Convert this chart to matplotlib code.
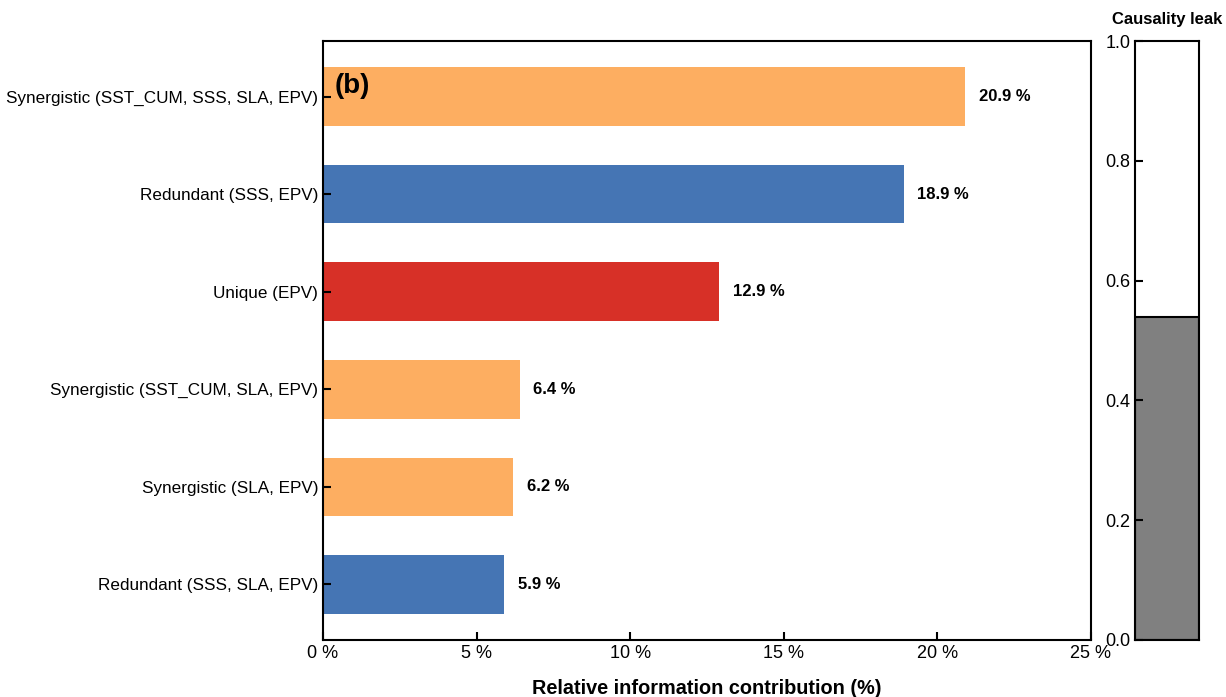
import matplotlib.pyplot as plt

plt.rcParams['font.family'] = ['Liberation Sans', 'DejaVu Sans']

labels = ['Redundant (SSS, SLA, EPV)', 'Synergistic (SLA, EPV)',
          'Synergistic (SST_CUM, SLA, EPV)', 'Unique (EPV)',
          'Redundant (SSS, EPV)', 'Synergistic (SST_CUM, SSS, SLA, EPV)']
values = [5.9, 6.2, 6.4, 12.9, 18.9, 20.9]
kinds = ['R', 'S', 'S', 'U', 'R', 'S']
leak = 0.54

colors = {'R': '#4575b4', 'S': '#fdae61', 'U': '#d73027'}

fig = plt.figure(figsize=(12.26, 6.97), dpi=100)
ax = fig.add_axes([323/1226, 57/697, 768/1226, 599/697])
ax2 = fig.add_axes([1135/1226, 57/697, 64/1226, 599/697])

ypos = range(len(values))
ax.barh(ypos, values, height=0.6, color=[colors[k] for k in kinds])
for y, v in zip(ypos, values):
    ax.text(v + 0.45, y, f'{v:.1f} %', va='center', ha='left',
            fontsize=12, fontweight='bold')
ax.set_yticks(list(ypos))
ax.set_yticklabels(labels, fontsize=12.3)
ax.set_xlim(0, 25)
ax.set_ylim(-0.57, 5.57)
ax.set_xticks([0, 5, 10, 15, 20, 25])
ax.set_xticklabels([f'{t} %' for t in [0, 5, 10, 15, 20, 25]], fontsize=13)
ax.set_xlabel('Relative information contribution (%)', fontsize=14.3,
              fontweight='bold', labelpad=12)
ax.tick_params(direction='in', length=6, width=1.5)
for s in ax.spines.values():
    s.set_linewidth(1.5)
ax.text(0.015, 0.925, '(b)', transform=ax.transAxes, fontsize=20,
        fontweight='bold', va='center', ha='left')

ax2.bar([0], [leak], width=1, color='gray', edgecolor='black', linewidth=1.5)
ax2.set_xlim(-0.5, 0.5)
ax2.set_ylim(0, 1)
ax2.set_xticks([])
ax2.set_yticks([0, 0.2, 0.4, 0.6, 0.8, 1.0])
ax2.tick_params(axis='y', direction='in', length=6, width=1.5, labelsize=13)
for s in ax2.spines.values():
    s.set_linewidth(1.5)
ax2.set_title('Causality leak', fontsize=12, fontweight='bold', pad=12)

fig.savefig('out.png', dpi=100)
